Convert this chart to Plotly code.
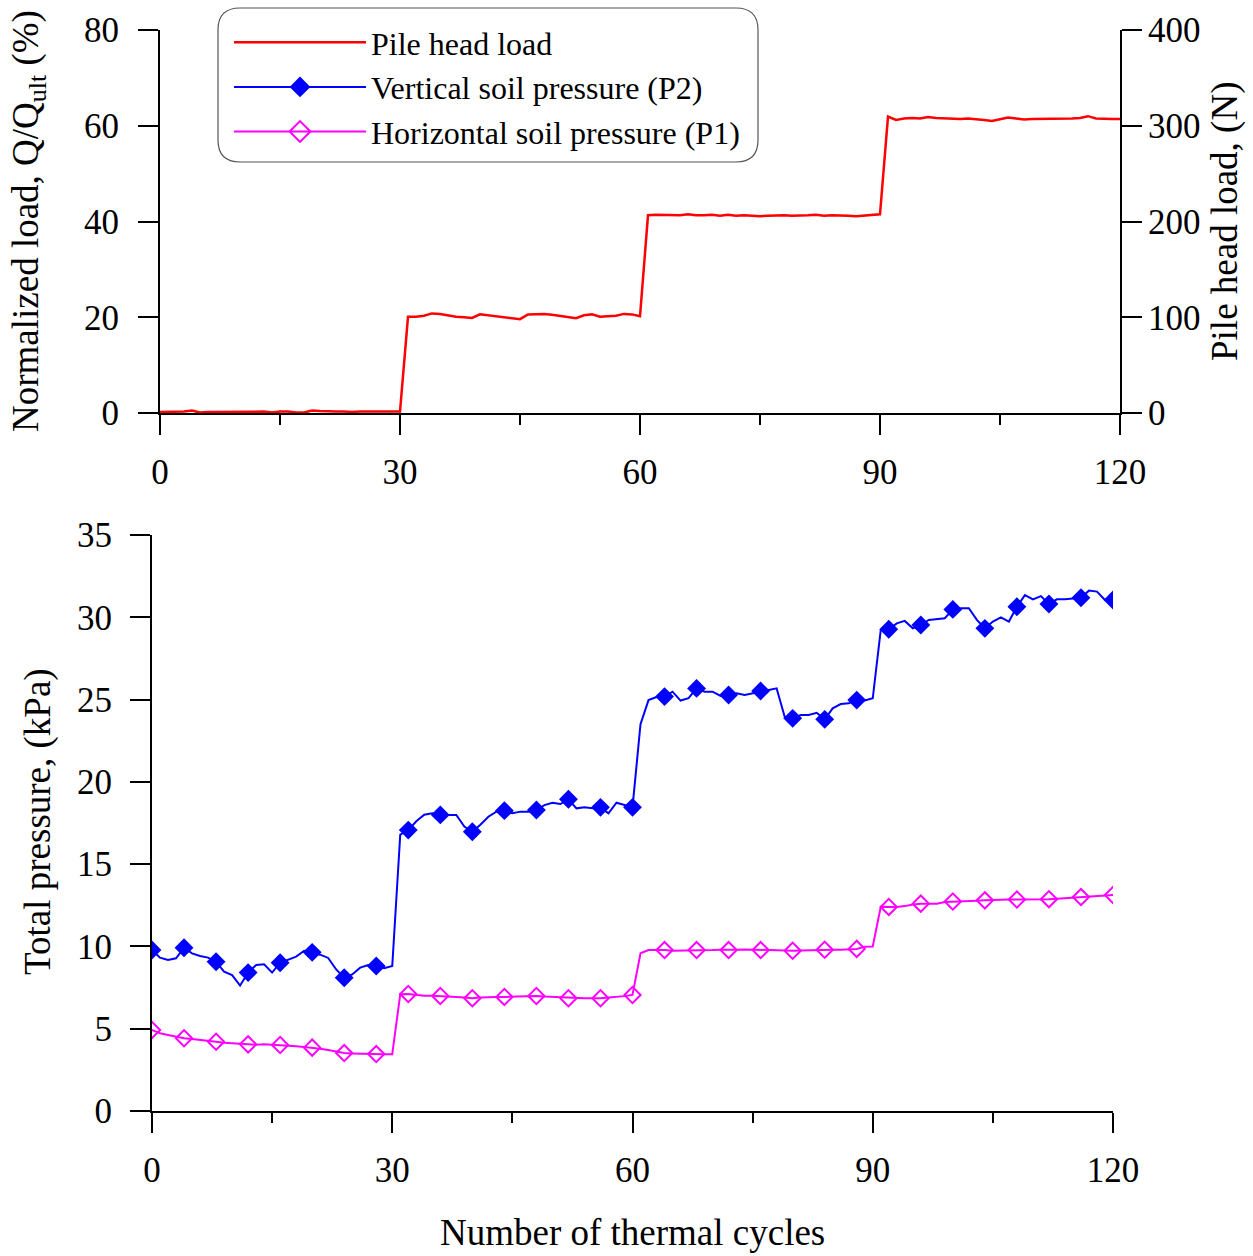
import plotly.graph_objects as go

# ---------------- data ----------------
cycles = list(range(121))

pile_head_load_pct = [
    0.2, 0.2, 0.2, 0.3, 0.5, 0.1, 0.2, 0.2, 0.3, 0.3, 0.3, 0.2, 0.3, 0.3, 0.1, 0.3,
    0.3, 0.1, 0.1, 0.5, 0.4, 0.3, 0.3, 0.3, 0.2, 0.3, 0.3, 0.4, 0.4, 0.3, 0.3,
    20.1, 20.1, 20.3, 20.8, 20.7, 20.4, 20.1, 20.0, 19.85, 20.6, 20.4, 20.3, 20.1, 19.8, 19.6,
    20.6, 20.6, 20.7, 20.5, 20.3, 20.0, 19.8, 20.4, 20.6, 20.1, 20.2, 20.3, 20.7, 20.6, 20.2,
    41.3, 41.4, 41.4, 41.4, 41.3, 41.5, 41.3, 41.3, 41.4, 41.2, 41.4, 41.2, 41.3, 41.2, 41.1,
    41.2, 41.3, 41.3, 41.2, 41.2, 41.3, 41.4, 41.2, 41.3, 41.3, 41.2, 41.1, 41.2, 41.3, 41.5,
    61.9, 61.2, 61.5, 61.6, 61.5, 61.8, 61.6, 61.5, 61.5, 61.4, 61.5, 61.4, 61.2, 61.0, 61.4,
    61.7, 61.5, 61.3, 61.4, 61.4, 61.5, 61.4, 61.5, 61.5, 61.6, 62.0, 61.5, 61.4, 61.4, 61.4,
]

vertical_p2 = [
    9.78, 9.32, 9.18, 9.28, 9.92, 9.58, 9.42, 9.32, 9.07, 8.47, 8.26, 7.62, 8.41, 8.87, 8.91, 8.41,
    9.01, 9.18, 9.38, 9.74, 9.64, 9.50, 9.30, 8.60, 8.10, 8.30, 8.71, 8.87, 8.81, 8.67, 8.81,
    16.8, 17.07, 17.6, 18.0, 18.09, 17.99, 17.99, 17.99, 17.28, 16.97, 17.4, 17.88, 18.19, 18.25, 18.09,
    18.19, 18.19, 18.29, 18.59, 18.73, 18.65, 18.94, 18.39, 18.45, 18.39, 18.45, 18.09, 18.73, 18.59, 18.45,
    23.5, 24.97, 25.15, 25.18, 25.48, 24.94, 25.08, 25.68, 25.48, 25.48, 25.22, 25.28, 25.38, 25.28, 25.38,
    25.52, 25.58, 25.68, 23.96, 23.86, 24.06, 24.06, 24.2, 23.80, 24.47, 24.73, 24.77, 24.97, 24.94, 25.08,
    29.23, 29.27, 29.63, 29.78, 29.33, 29.53, 29.84, 29.88, 29.94, 30.48, 30.55, 30.55, 29.84, 29.33, 29.74,
    30.0, 29.74, 30.64, 31.35, 31.09, 31.29, 30.81, 31.09, 31.09, 31.15, 31.19, 31.62, 31.56, 31.05, 31.05,
]

horizontal_p1 = [
    4.92, 4.72, 4.62, 4.52, 4.42, 4.37, 4.33, 4.27, 4.21, 4.15, 4.11, 4.07, 4.05, 4.03, 4.05, 4.03,
    4.01, 3.97, 3.93, 3.89, 3.85, 3.78, 3.70, 3.60, 3.52, 3.50, 3.48, 3.47, 3.46, 3.45, 3.45,
    7.10, 7.11, 7.05, 7.00, 7.00, 6.99, 6.95, 6.93, 6.90, 6.85, 6.90, 6.93, 6.93, 6.93, 6.95,
    6.95, 6.97, 6.99, 6.95, 6.93, 6.90, 6.85, 6.85, 6.85, 6.85, 6.85, 6.90, 6.93, 6.98, 7.05,
    9.58, 9.78, 9.80, 9.78, 9.74, 9.74, 9.78, 9.78, 9.78, 9.78, 9.80, 9.78, 9.80, 9.82, 9.80,
    9.78, 9.78, 9.76, 9.74, 9.74, 9.76, 9.78, 9.80, 9.80, 9.80, 9.80, 9.82, 9.85, 9.98, 10.0,
    12.41, 12.40, 12.40, 12.45, 12.55, 12.60, 12.60, 12.60, 12.70, 12.73, 12.76, 12.78, 12.78, 12.80, 12.83,
    12.85, 12.85, 12.85, 12.85, 12.85, 12.86, 12.87, 12.90, 12.93, 12.95, 13.00, 13.05, 13.08, 13.10, 13.12,
]

marker_step = 4
x_tick_labels = [0, 30, 60, 90, 120]
names = ["Pile head load", "Vertical soil pressure (P2)", "Horizontal soil pressure (P1)"]

# ---------------- layout helpers ----------------
W, H = 1253, 1256
def px(x):
    return x / W
def py(y):
    return 1 - y / H

FONT = "Liberation Serif"
RED, BLUE, PINK = "#FF0000", "#0000FF", "#FF00FF"

fig = go.Figure()

# top panel
fig.add_trace(go.Scatter(x=cycles, y=pile_head_load_pct, mode="lines",
                         line=dict(color=RED, width=2.5), name=names[0],
                         xaxis="x", yaxis="y", showlegend=True))
# right axis (pile head load, N) needs a trace attached to be drawn
fig.add_trace(go.Scatter(x=[None], y=[None], mode="lines", xaxis="x", yaxis="y2",
                         showlegend=False, hoverinfo="skip"))

# bottom panel lines
fig.add_trace(go.Scatter(x=cycles, y=vertical_p2, mode="lines",
                         line=dict(color=BLUE, width=2), xaxis="x2", yaxis="y3",
                         showlegend=False, hoverinfo="skip"))
fig.add_trace(go.Scatter(x=cycles, y=horizontal_p1, mode="lines",
                         line=dict(color=PINK, width=2), xaxis="x2", yaxis="y3",
                         showlegend=False, hoverinfo="skip"))
# markers every 4 cycles
fig.add_trace(go.Scatter(x=cycles[::marker_step], y=vertical_p2[::marker_step], mode="markers",
                         marker=dict(symbol="diamond", size=14.5, color=BLUE),
                         xaxis="x2", yaxis="y3", showlegend=False, name=names[1]))
fig.add_trace(go.Scatter(x=cycles[::marker_step], y=horizontal_p1[::marker_step], mode="markers",
                         marker=dict(symbol="diamond-open", size=12.5, color=PINK,
                                     line=dict(color=PINK, width=2)),
                         xaxis="x2", yaxis="y3", showlegend=False, name=names[2]))
# legend entries
fig.add_trace(go.Scatter(x=[None], y=[None], mode="lines+markers", name=names[1],
                         line=dict(color=BLUE, width=2),
                         marker=dict(symbol="diamond", size=24, color=BLUE),
                         xaxis="x2", yaxis="y3"))
fig.add_trace(go.Scatter(x=[None], y=[None], mode="lines+markers", name=names[2],
                         line=dict(color=PINK, width=2),
                         marker=dict(symbol="diamond-open", size=23, color=PINK,
                                     line=dict(color=PINK, width=2)),
                         xaxis="x2", yaxis="y3"))

axis_common = dict(showline=True, linecolor="black", linewidth=2, ticks="outside",
                   ticklen=20, tickwidth=2, tickcolor="black", showgrid=False,
                   zeroline=False, tickfont=dict(family=FONT, size=35, color="black"))

fig.update_layout(
    width=W, height=H, margin=dict(l=0, r=0, t=0, b=0, autoexpand=False),
    paper_bgcolor="white", plot_bgcolor="white",
    font=dict(family=FONT, color="black"),
    xaxis=dict(domain=[px(160), px(1120)], range=[0, 120], anchor="y",
               tickvals=x_tick_labels, ticklabelstandoff=7,
               minor=dict(ticks="outside", ticklen=10, tickwidth=2, tickcolor="black",
                          tick0=0, dtick=15),
               **axis_common),
    yaxis=dict(domain=[py(413), py(30)], range=[0, 80], dtick=20, anchor="x",
               ticklabelstandoff=12, **axis_common),
    yaxis2=dict(overlaying="y", side="right", anchor="x", range=[0, 400], dtick=100,
                ticklabelstandoff=-1, **axis_common),
    xaxis2=dict(domain=[px(152), px(1113)], range=[0, 120], anchor="y3",
                tickvals=x_tick_labels, ticklabelstandoff=7,
                minor=dict(ticks="outside", ticklen=10, tickwidth=2, tickcolor="black",
                           tick0=0, dtick=15),
                **axis_common),
    yaxis3=dict(domain=[py(1111), py(535)], range=[0, 35], dtick=5, anchor="x2",
                ticklabelstandoff=11, **axis_common),
    legend=dict(x=px(229), y=py(15), xanchor="left", yanchor="top",
                bgcolor="rgba(0,0,0,0)", borderwidth=0, itemwidth=132,
                font=dict(family=FONT, size=32, color="black"),
                traceorder="normal"),
)

# rounded legend frame
x0, x1, y0, y1, r = 218, 758, 8, 162, 22
path = (f"M {px(x0 + r)},{py(y0)} L {px(x1 - r)},{py(y0)} "
        f"Q {px(x1)},{py(y0)} {px(x1)},{py(y0 + r)} "
        f"L {px(x1)},{py(y1 - r)} Q {px(x1)},{py(y1)} {px(x1 - r)},{py(y1)} "
        f"L {px(x0 + r)},{py(y1)} Q {px(x0)},{py(y1)} {px(x0)},{py(y1 - r)} "
        f"L {px(x0)},{py(y0 + r)} Q {px(x0)},{py(y0)} {px(x0 + r)},{py(y0)} Z")
fig.add_shape(type="path", path=path, xref="paper", yref="paper",
              line=dict(color="#555555", width=1.2), fillcolor="rgba(0,0,0,0)")

title_font = dict(family=FONT, size=37, color="black")
fig.add_annotation(text="Normalized load, Q/Q<sub>ult</sub> (%)", x=px(28), y=py(221),
                   xref="paper", yref="paper", textangle=-90, showarrow=False,
                   xanchor="center", yanchor="middle", font=title_font)
fig.add_annotation(text="Pile head load, (N)", x=px(1225), y=py(222),
                   xref="paper", yref="paper", textangle=-90, showarrow=False,
                   xanchor="center", yanchor="middle", font=title_font)
fig.add_annotation(text="Total pressure, (kPa)", x=px(38), y=py(822),
                   xref="paper", yref="paper", textangle=-90, showarrow=False,
                   xanchor="center", yanchor="middle", font=title_font)
fig.add_annotation(text="Number of thermal cycles", x=px(632), y=py(1232),
                   xref="paper", yref="paper", showarrow=False,
                   xanchor="center", yanchor="middle", font=title_font)

fig.write_html(
    "out.html",
    post_script="document.body.style.margin='0px';document.body.style.padding='0px';",
)
